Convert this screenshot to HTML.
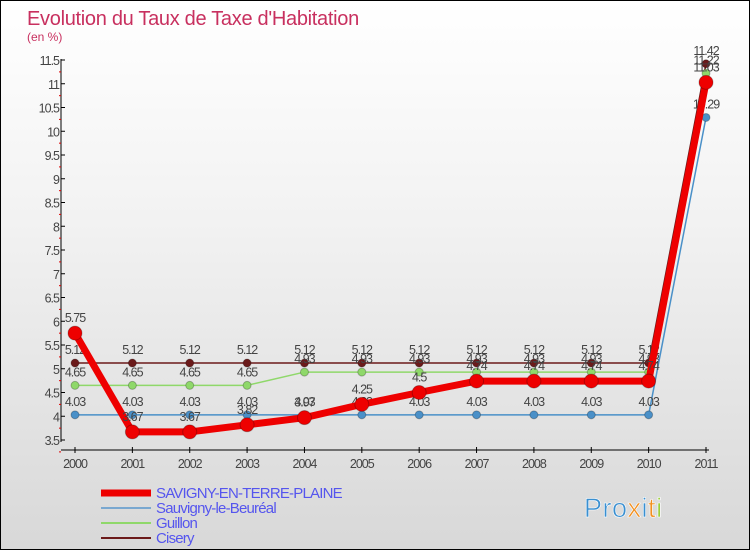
<!DOCTYPE html>
<html><head><meta charset="utf-8"><style>
body{margin:0;width:750px;height:550px;overflow:hidden;font-family:"Liberation Sans",sans-serif}
#root{position:relative;width:748px;height:548px;border:1px solid #000;background:linear-gradient(#fff,#f2f2f2 40%,#d8d8d8)}
</style></head><body>
<div id="root">
<svg id="chart" width="748" height="548"></svg>
</div>
<script>
const years=[2000,2001,2002,2003,2004,2005,2006,2007,2008,2009,2010,2011];
const savigny=[5.75,3.67,3.67,3.82,3.97,4.25,4.5,4.74,4.74,4.74,4.74,11.03];
const sauvigny=[4.03,4.03,4.03,4.03,4.03,4.03,4.03,4.03,4.03,4.03,4.03,10.29];
const guillon=[4.65,4.65,4.65,4.65,4.93,4.93,4.93,4.93,4.93,4.93,4.93,11.22];
const cisery=[5.12,5.12,5.12,5.12,5.12,5.12,5.12,5.12,5.12,5.12,5.12,11.42];
const yTicks=[3.5,4,4.5,5,5.5,6,6.5,7,7.5,8,8.5,9,9.5,10,10.5,11,11.5];
const NS='http://www.w3.org/2000/svg';
const svg=document.getElementById('chart');
const X=i=>74+i*(705-74)/11;
const Y=v=>439-(v-3.5)*47.5;
function mk(t,a,txt){const e=document.createElementNS(NS,t);for(const k in a)e.setAttribute(k,a[k]);if(txt!=null)e.textContent=txt;svg.appendChild(e);return e;}
let e;
e=mk('text',{x:26,y:24,'font-size':20,fill:'#c8305f','letter-spacing':'-0.3'},'Evolution du Taux de Taxe d\'Habitation');


e=mk('text',{x:26,y:40,'font-size':12,fill:'#c8305f'},'(en %)');


e=mk('line',{x1:60,y1:58,x2:60,y2:441,stroke:'#000'});


e=mk('line',{x1:60,y1:449,x2:708,y2:449,stroke:'#000'});


yTicks.forEach(v=>{mk('line',{x1:60,y1:Y(v),x2:64,y2:Y(v),stroke:'#000'});
 mk('line',{x1:58,y1:Y(v)+11.9,x2:60,y2:Y(v)+11.9,stroke:'#d00'});
 e=mk('text',{x:58,y:Y(v)+5,'font-size':12.5,fill:'#444','text-anchor':'end','letter-spacing':'-1'},String(v));
 
 });
years.forEach((yr,i)=>{mk('line',{x1:X(i),y1:446,x2:X(i),y2:452,stroke:'#000'});
 e=mk('text',{x:X(i),y:467,'font-size':12.5,fill:'#444','text-anchor':'middle','letter-spacing':'-1'},String(yr));
 
 });
function series(arr,color,w,r,name,dy){
 e=mk('polyline',{points:arr.map((v,i)=>X(i)+','+Y(v)).join(' '),fill:'none',stroke:color,'stroke-width':w,'stroke-linejoin':'round'});
 
 
 arr.forEach((v,i)=>{e=mk('circle',{cx:X(i),cy:Y(v),r:r,fill:color,stroke:'rgba(0,0,0,0.25)'});
  
  
  e=mk('text',{x:X(i),y:Y(v)+dy,'font-size':12.5,fill:'#444','text-anchor':'middle','letter-spacing':'-1'},String(v));
  
  });
}
series(cisery,'#6b1a1a',1.5,4,'cisery',-9);
series(guillon,'#8fd86a',1.5,4,'guillon',-9);
series(sauvigny,'#4a90c8',1.5,4,'sauvigny',-9);
series(savigny,'#ee0000',7,7,'savigny',-11);
const leg=[['SAVIGNY-EN-TERRE-PLAINE','#ee0000',7],['Sauvigny-le-Beuréal','#7aa8d0',2],['Guillon','#8fd86a',2],['Cisery','#6b1a1a',2]];
leg.forEach((l,i)=>{const y=492+i*15;
 e=mk('line',{x1:100,y1:y,x2:150,y2:y,stroke:l[1],'stroke-width':l[2]});
 
 
 e=mk('text',{x:155,y:y+5,'font-size':15,fill:'#5555ee','letter-spacing':'-0.8'},l[0]);
 
 });
const logo=mk('text',{x:583,y:516,'font-size':27,'letter-spacing':'0.5',stroke:'#fff','stroke-width':0.6});


const lc=['#3a8fd0','#3a8fd0','#3a8fd0','#f29020','#3a8fd0','#f29020','#9ccf3a'];
'Proxiti'.split('').forEach((c,i)=>{const s=document.createElementNS(NS,'tspan');s.setAttribute('fill',lc[i]);s.textContent=c;logo.appendChild(s);});
</script>
</body></html>
